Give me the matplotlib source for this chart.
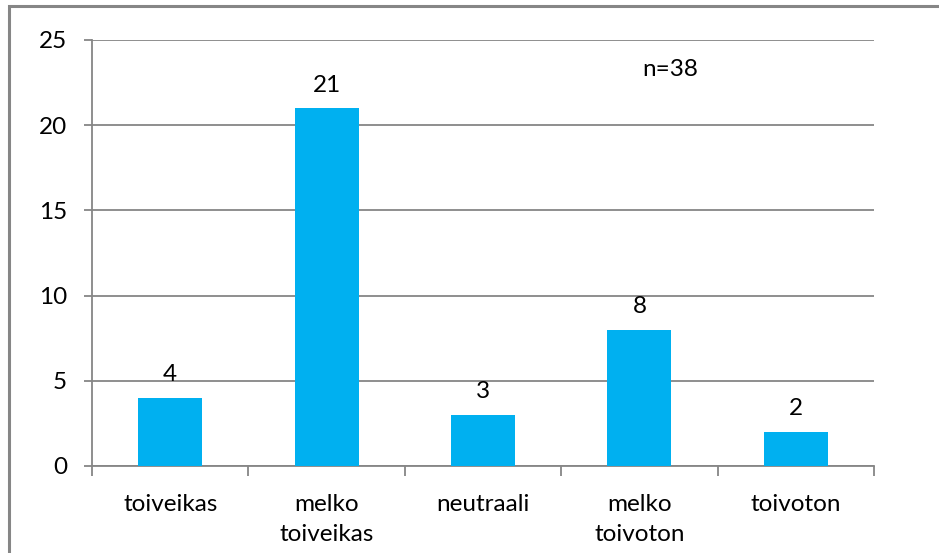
import matplotlib.pyplot as plt
from matplotlib.patches import Rectangle

# vastaukset: kuinka toiveikas olo
categories = ["toiveikas", "melko\ntoiveikas", "neutraali", "melko\ntoivoton", "toivoton"]
counts = [4, 21, 3, 8, 2]
y_ticks = [0, 5, 10, 15, 20, 25]
n_label = "n=38"

BAR_COLOR = "#00B0F0"
LINE_COLOR = "#868686"
FS = 17.5

plt.rcParams["font.family"] = ["Lato", "DejaVu Sans"]

fig = plt.figure(figsize=(9.39, 5.53), dpi=100)
ax = fig.add_axes([92 / 939, 1 - 466 / 553, 782 / 939, 426 / 553])

x = list(range(len(categories)))
ax.bar(x, counts, width=0.41, color=BAR_COLOR, zorder=3)

for xi, v in zip(x, counts):
    ax.annotate(str(v), (xi, v), xytext=(0, 9), textcoords="offset points",
                ha="center", va="bottom", fontsize=FS, color="black")

ax.set_xlim(-0.5, len(categories) - 0.5)
ax.set_ylim(0, 25)
ax.set_yticks(y_ticks)
ax.yaxis.grid(True, color=LINE_COLOR, linewidth=1.3, zorder=0)

# kategoriat boksien keskelle, tick-viivat rajoille
ax.set_xticks([i - 0.5 for i in range(len(categories) + 1)])
ax.set_xticklabels([])
ax.set_xticks(x, minor=True)
ax.set_xticklabels(categories, minor=True, fontsize=FS, linespacing=1.55)
ax.tick_params(axis="x", which="minor", length=0, pad=20)
ax.tick_params(axis="x", which="major", length=7, width=1.3, color=LINE_COLOR)
ax.tick_params(axis="y", length=6, width=1.3, color=LINE_COLOR, labelsize=FS, pad=12)

for side in ["top", "right"]:
    ax.spines[side].set_visible(False)
for side in ["left", "bottom"]:
    ax.spines[side].set_color(LINE_COLOR)
    ax.spines[side].set_linewidth(1.3)

ax.text(0.739, 0.93, n_label, transform=ax.transAxes, ha="center", va="center",
        fontsize=FS)

# kaavion kehys
fig.patches.append(Rectangle((9 / 939, -0.05), 1.1, 1 - 6 / 553 + 0.05,
                             transform=fig.transFigure, fill=False,
                             edgecolor=LINE_COLOR, linewidth=2.2))

fig.savefig("out.png", dpi=100, facecolor="white")
